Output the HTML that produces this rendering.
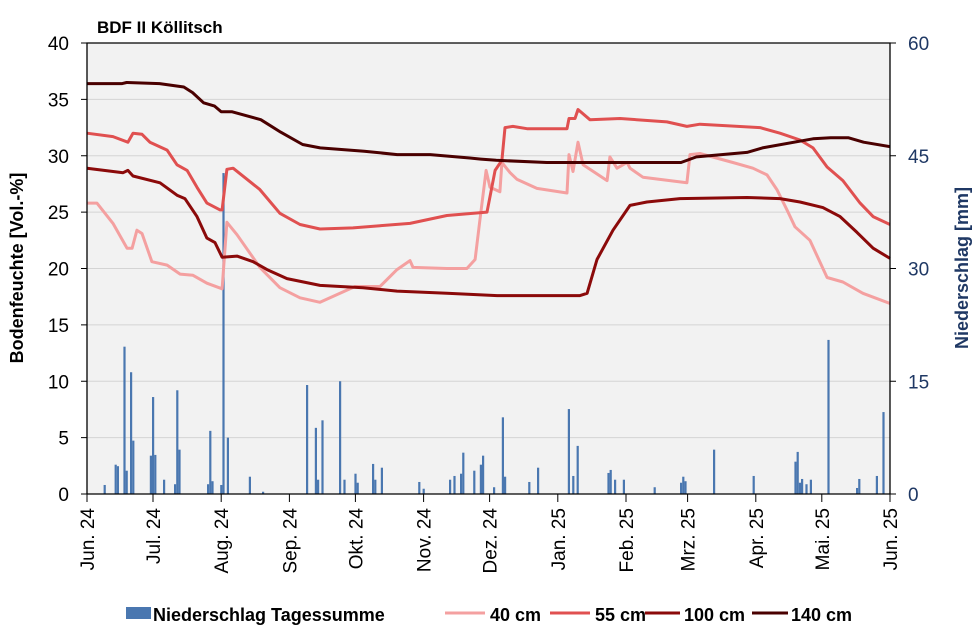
<!DOCTYPE html>
<html><head><meta charset="utf-8"><style>
body{margin:0;background:#fff;width:977px;height:631px;overflow:hidden}
svg{font-family:"Liberation Sans",sans-serif}
</style></head><body>
<svg id="chart" width="977" height="631">
<text x="97" y="33" font-size="17" font-weight="bold">BDF II Köllitsch</text>
<rect x="87" y="43" width="803" height="451" fill="#f2f2f2"/>
<g id="grid"></g><g id="bars"></g><g id="lines"></g><g id="axes"></g>
<text transform="translate(23,268) rotate(-90)" text-anchor="middle" font-size="18" font-weight="bold">Bodenfeuchte [Vol.-%]</text>
<text transform="translate(968,268) rotate(-90)" text-anchor="middle" font-size="18" font-weight="bold" fill="#1f3864">Niederschlag [mm]</text>
<g>
<rect x="126" y="607" width="25" height="12" fill="#4a77b0"/>
<text x="153" y="621" font-size="18" font-weight="bold">Niederschlag Tagessumme</text>
<line x1="445" y1="613" x2="485" y2="613" stroke="#f4a0a0" stroke-width="3"/>
<text x="490" y="621" font-size="18" font-weight="bold">40 cm</text>
<line x1="550" y1="613" x2="590" y2="613" stroke="#e05050" stroke-width="3"/>
<text x="595" y="621" font-size="18" font-weight="bold">55 cm</text>
<line x1="645" y1="613" x2="680" y2="613" stroke="#8b0a0a" stroke-width="3"/>
<text x="684" y="621" font-size="18" font-weight="bold">100 cm</text>
<line x1="752" y1="613" x2="788" y2="613" stroke="#4a0000" stroke-width="3"/>
<text x="791" y="621" font-size="18" font-weight="bold">140 cm</text>
</g>
</svg>
<script>
const monthLabels=["Jun. 24","Jul. 24","Aug. 24","Sep. 24","Okt. 24","Nov. 24","Dez. 24","Jan. 25","Feb. 25","Mrz. 25","Apr. 25","Mai. 25","Jun. 25"];
const monthDays=[0,30,61,92,122,153,183,214,245,273,304,334,365];
const leftTicks=[0,5,10,15,20,25,30,35,40];
const rightTicks=[0,15,30,45,60];
const precipDays=[8,13,14,17,18,20,21,29,30,31,35,40,41,42,55,56,57,61,62,64,74,80,100,104,105,107,115,117,122,123,130,131,134,151,153,165,167,170,171,176,179,180,185,189,190,201,205,219,221,223,237,238,240,244,258,270,271,272,285,303,322,323,324,325,327,329,337,350,351,359,362];
const precipMm=[1.2,3.9,3.7,19.6,3.1,16.2,7.1,5.1,12.9,5.2,1.9,1.3,13.8,5.9,1.3,8.4,1.7,1.2,42.7,7.5,2.3,0.3,14.5,8.8,1.9,9.8,15.0,1.9,2.7,1.5,4.0,1.9,3.5,1.6,0.7,1.9,2.4,2.7,5.5,3.1,3.9,5.1,0.9,10.2,2.3,1.6,3.5,11.3,2.4,6.4,2.8,3.2,1.9,1.9,0.9,1.5,2.3,1.7,5.9,2.4,4.3,5.6,1.5,2.0,1.3,1.9,20.5,0.8,2.0,2.4,10.9];
const d140=[0,16,18,33,44,48,53,58,61,66,79,88,98,106,126,141,156,174,179,186,209,239,270,277,300,307,330,338,346,353,365];
const v140=[36.4,36.4,36.5,36.4,36.1,35.6,34.7,34.4,33.9,33.9,33.2,32.1,31.0,30.7,30.4,30.1,30.1,29.8,29.7,29.6,29.4,29.4,29.4,29.9,30.3,30.7,31.5,31.6,31.6,31.2,30.8];
const d55=[0,11.8,18.6,20.9,25,28.6,36.4,40.9,45.5,50,54.5,60.5,61.4,63.6,66.4,78.6,87.7,96.8,105.9,120.9,133.2,146.8,163.6,181.8,185.5,188.6,190,193.6,200,218.2,219.1,221.8,223.2,228.6,242.3,263.6,272.7,278.6,305.9,315,324.1,330,336.4,343.6,351.4,357.3,365];
const v55=[32.0,31.7,31.2,32.0,31.9,31.2,30.5,29.2,28.7,27.2,25.8,25.2,25.2,28.8,28.9,27.0,24.9,23.9,23.5,23.6,23.8,24.0,24.7,25.0,28.7,29.6,32.5,32.6,32.4,32.4,33.3,33.3,34.1,33.2,33.3,33.0,32.6,32.8,32.5,32.0,31.4,30.7,29.0,27.8,25.8,24.6,23.9];
const d100=[0,16.4,18.6,20.9,33.2,40.9,44.5,50,54.5,58.2,61.4,68.2,75.5,81.8,90.9,105.9,125.5,140.9,163.6,186.4,224.1,227.3,231.8,239.1,246.8,254.5,269.5,300,315,324.1,334.5,342.3,350,357.3,365];
const v100=[28.9,28.5,28.7,28.2,27.6,26.5,26.2,24.6,22.7,22.3,21.0,21.1,20.6,19.9,19.1,18.5,18.3,18.0,17.8,17.6,17.6,17.8,20.8,23.4,25.6,25.9,26.2,26.3,26.2,25.9,25.4,24.6,23.2,21.8,20.9];
const d40=[0,4.5,11.8,18.2,20.5,22.7,25,29.5,36.4,42.3,48.2,54.5,61.4,63.6,68.2,78.6,87.7,96.8,105.9,121.8,133.2,140.9,146.8,148.2,163.6,172.7,176.4,178.6,181.4,183.2,187.7,188.6,192.3,195.5,204.5,218.2,219.1,220.9,223.2,225.5,236.4,237.7,240.9,245.5,246.8,252.7,272.7,274.1,278.6,293.6,302.7,309.1,313.6,318.2,321.8,328.6,336.4,343.6,352.7,365];
const v40=[25.8,25.8,24.0,21.8,21.8,23.4,23.1,20.6,20.3,19.5,19.4,18.7,18.2,24.1,23.0,20.1,18.3,17.4,17.0,18.4,18.4,19.9,20.7,20.1,20.0,20.0,20.8,24.3,28.7,27.2,26.8,29.4,28.5,27.9,27.1,26.7,30.1,28.6,31.2,29.2,27.8,29.9,28.9,29.4,28.9,28.1,27.6,30.1,30.2,29.4,28.9,28.3,27.0,25.2,23.7,22.5,19.2,18.8,17.8,16.9];

const L=87,R=890,T=43,B=494,NS='http://www.w3.org/2000/svg';
const xS=d=>L+d*(R-L)/365;
const yL=v=>B-v*(B-T)/40;
const yR=v=>B-v*(B-T)/60;
function mk(tag,attrs,parent){const e=document.createElementNS(NS,tag);for(const k in attrs)e.setAttribute(k,attrs[k]);document.getElementById(parent).appendChild(e);return e;}

leftTicks.forEach(t=>{
  if(t>0&&t<40){const g=mk('line',{x1:L,x2:R,y1:yL(t),y2:yL(t),stroke:'#d4d4d4','stroke-width':1},'grid');
  
  }
  const tk=mk('line',{x1:L-6,x2:L,y1:yL(t),y2:yL(t),stroke:'#000'},'axes');
  
  
  const tx=mk('text',{x:L-18,y:yL(t)+7,'text-anchor':'end','font-size':19},'axes');
  tx.textContent=t;
  
  
});
rightTicks.forEach(t=>{
  const tk=mk('line',{x1:R,x2:R+6,y1:yR(t),y2:yR(t),stroke:'#000'},'axes');
  
  
  const tx=mk('text',{x:R+18,y:yR(t)+7,'font-size':19,fill:'#1f3864'},'axes');
  tx.textContent=t;
  
  
});
precipDays.forEach((d,i)=>{
  const b=mk('rect',{x:xS(d)-1,y:yR(precipMm[i]),width:2.2,height:B-yR(precipMm[i]),fill:'#4a77b0'},'bars');
  
  
});
function line(ds,vs,color,name){
  const p=mk('polyline',{points:ds.map((d,i)=>xS(d).toFixed(1)+','+yL(vs[i]).toFixed(1)).join(' '),fill:'none',stroke:color,'stroke-width':3,'stroke-linejoin':'round'},'lines');
  
  
}
line(d40,v40,'#f4a0a0','series-40cm');
line(d55,v55,'#e05050','series-55cm');
line(d100,v100,'#8b0a0a','series-100cm');
line(d140,v140,'#4a0000','series-140cm');
const fr=mk('path',{d:`M${L},${B}V${T}H${R}V${B}`,fill:'none',stroke:'#000','stroke-width':1.3},'axes');


const xa=mk('line',{x1:L,x2:R,y1:B,y2:B,stroke:'#000','stroke-width':1.3},'axes');


monthDays.forEach((d,i)=>{
  const tk=mk('line',{x1:xS(d),x2:xS(d),y1:B,y2:B+8,stroke:'#000'},'axes');
  
  
  const tx=mk('text',{transform:`translate(${xS(d)+7},508) rotate(-90)`,'text-anchor':'end','font-size':19},'axes');
  tx.textContent=monthLabels[i];
  
  
});
</script>
</body></html>
